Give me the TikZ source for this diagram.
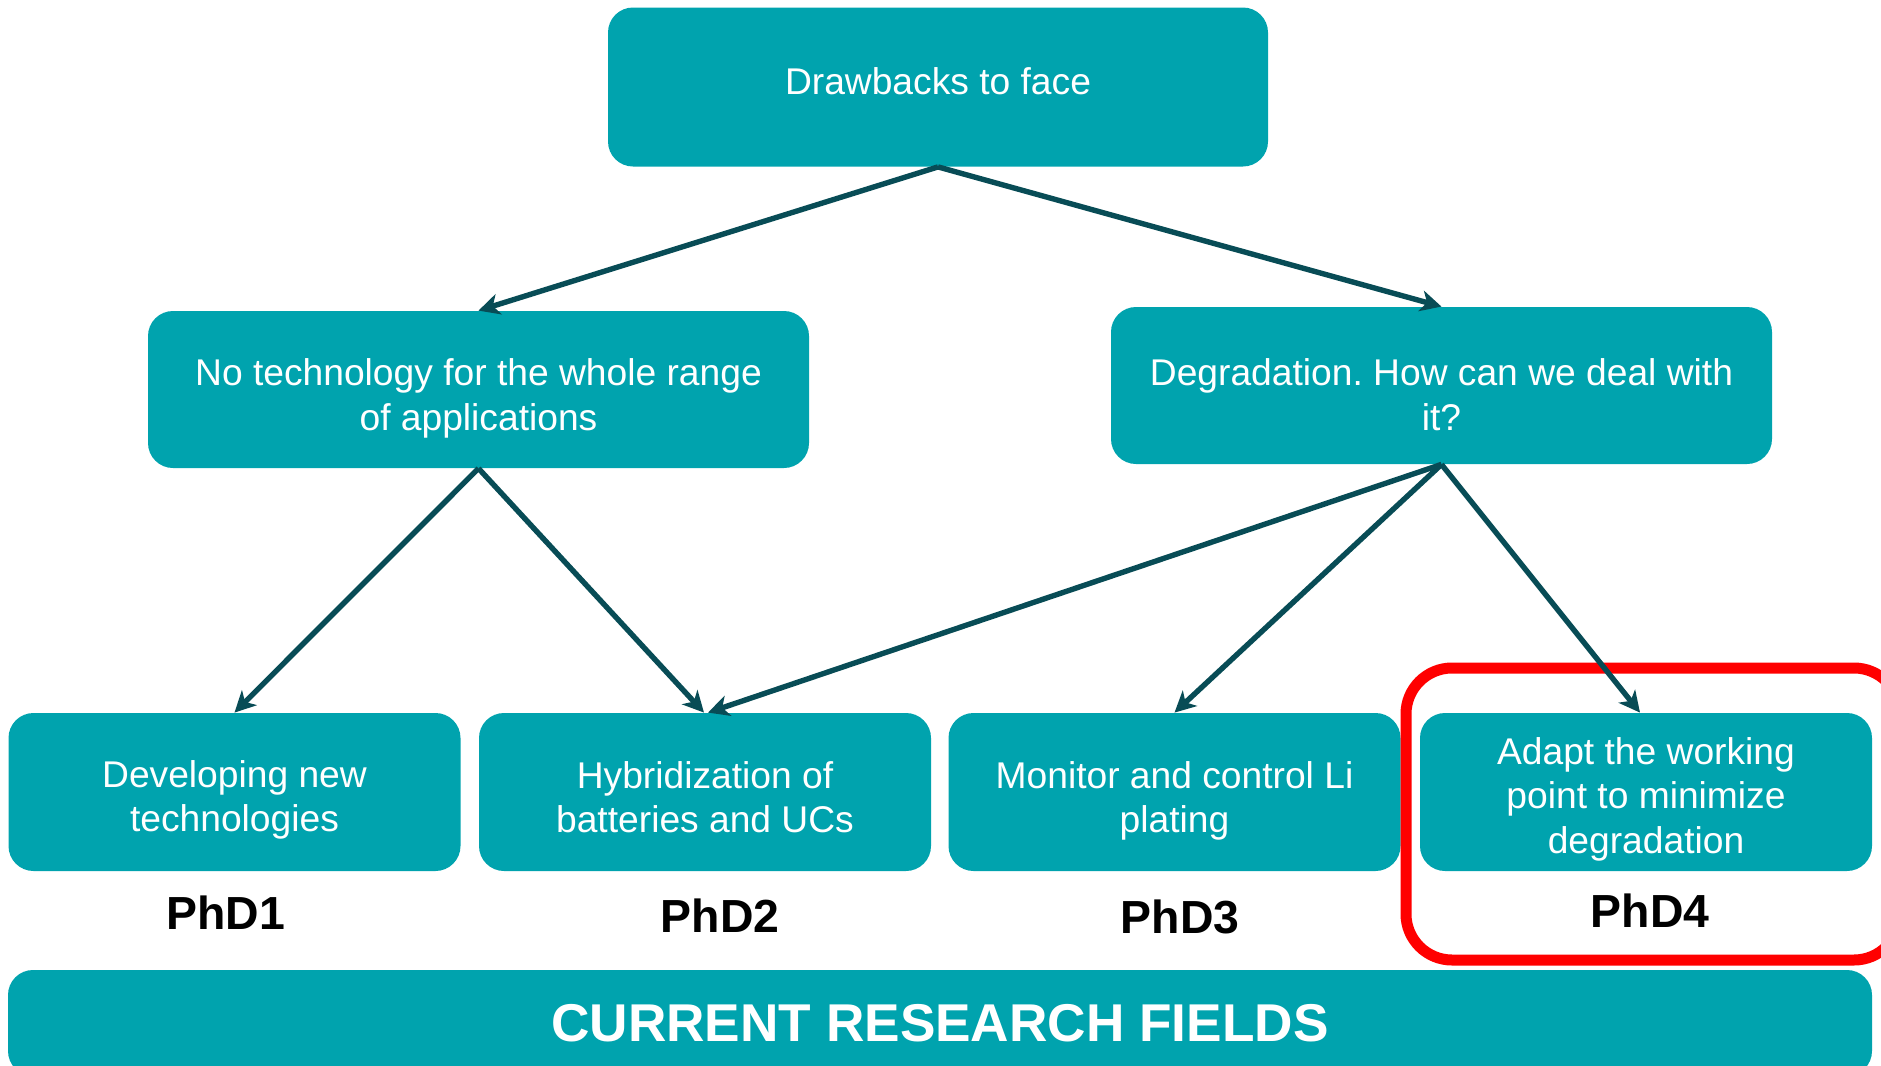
\documentclass[tikz,border=0pt]{standalone}
\usepackage{fontspec}
\setmainfont{Liberation Sans}
\usetikzlibrary{arrows.meta}
\frenchspacing
\definecolor{boxteal}{RGB}{0,163,174}
\definecolor{linkdark}{RGB}{8,76,86}
\definecolor{markred}{RGB}{255,0,0}
\tikzset{
  card/.style={fill=boxteal, rounded corners=12.5pt, inner sep=0pt},
  cardtext/.style={text=white, align=center, inner sep=0pt,
    font=\fontsize{18.6}{22.2}\selectfont},
  wide/.style={minimum width=330.5pt, minimum height=78.5pt},
  leaf/.style={minimum width=226pt, minimum height=79pt},
  link/.style={draw=linkdark, line width=2.7pt,
    -{Stealth[length=10.5pt, width=10.5pt, inset=3pt]}},
  phd/.style={font=\fontsize{23.2}{27}\selectfont\bfseries, text=black, inner sep=0pt},
}
\begin{document}
\begin{tikzpicture}[x=0.5pt, y=-0.5pt]
  \useasboundingbox (0,0) rectangle (1881,1066);

  % top level
  \node[card, minimum width=330pt, minimum height=79.5pt] (top) at (938,87) {};
  \node[cardtext, yshift=3pt] (topT) at (top.center) {Drawbacks to face};

  % second level
  \node[card, wide] (lmid) at (478.5,389.5) {};
  \node[cardtext, yshift=-4.5pt] (lmidT) at (lmid.center) {No technology for the whole range\\of applications};
  \node[card, wide] (rmid) at (1441.5,385.5) {};
  \node[cardtext, yshift=-4.5pt] (rmidT) at (rmid.center) {Degradation. How can we deal with\\it?};

  % research lines
  \node[card, leaf] (b1) at (234.5,792) {};
  \node[cardtext, yshift=-4pt] (b1T) at (b1.center) {Developing new\\technologies};
  \node[card, leaf] (b2) at (705,792) {};
  \node[cardtext, yshift=-2.5pt] (b2T) at (b2.center) {Hybridization of\\batteries and UCs};
  \node[card, leaf] (b3) at (1174.5,792) {};
  \node[cardtext, yshift=-4.5pt] (b3T) at (b3.center) {Monitor and control Li\\plating};
  \node[card, leaf] (b4) at (1646,792) {};
  \node[cardtext, yshift=-3.5pt] (b4T) at (b4.center) {Adapt the working\\point to minimize\\degradation};

  % thesis labels
  \node[phd] (p1) at (226,913) {PhD1};
  \node[phd] (p2) at (720,916) {PhD2};
  \node[phd] (p3) at (1180,917) {PhD3};
  \node[phd] (p4) at (1650,911) {PhD4};

  % highlight around the fourth thesis
  \draw[markred, line width=5.5pt, rounded corners=23pt] (1406,668) rectangle (1900,960);

  % footer bar
  \node[card, minimum width=932pt, minimum height=53pt] (bar) at (940,1023) {};
  \node[cardtext, font=\fontsize{26.6}{30}\selectfont\bfseries] (barT) at (bar.center) {CURRENT RESEARCH FIELDS};

  % connectors
  \draw[link] (top.south) -- (lmid.north);
  \draw[link] (top.south) -- (rmid.north);
  \draw[link] (lmid.south) -- (b1.north);
  \draw[link] (lmid.south) -- ([xshift=-0.5pt]b2.north);
  \draw[link] (rmid.south) -- ([xshift=1.5pt]b2.north);
  \draw[link] (rmid.south) -- (b3.north);
  \draw[link] (rmid.south) -- ([xshift=-3pt]b4.north);
\end{tikzpicture}
\end{document}
